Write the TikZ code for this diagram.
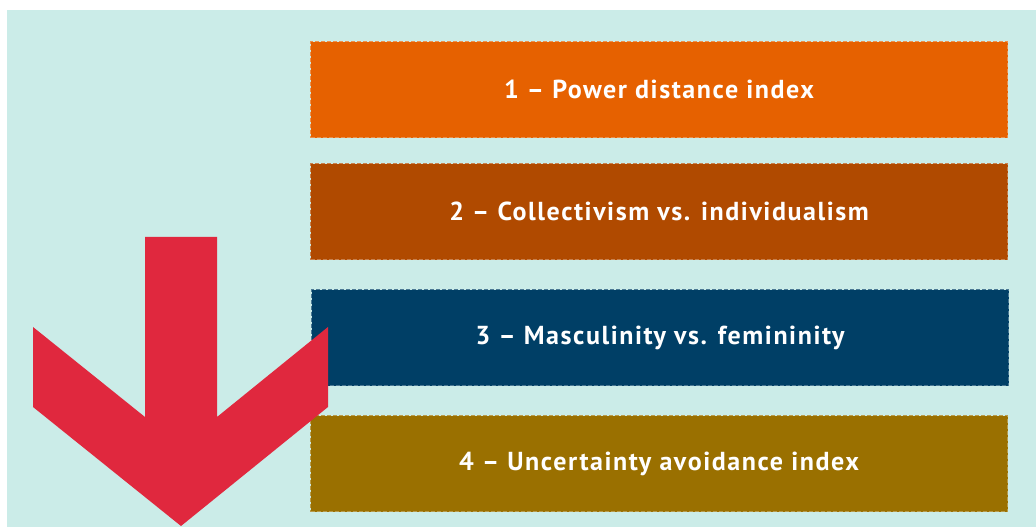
\documentclass[tikz,border=0pt]{standalone}
\usepackage{fontspec}
\setmainfont{PT Sans}
\newfontfamily\labelfont[LetterSpace=6]{PT Sans}
\definecolor{bgc}{HTML}{CBECE8}
\definecolor{c1}{HTML}{E66100}
\definecolor{c2}{HTML}{B04A00}
\definecolor{c3}{HTML}{003F66}
\definecolor{c4}{HTML}{9A7000}
\definecolor{arr}{HTML}{E0283E}
\tikzset{
  factor/.style={minimum width=697pt, minimum height=96pt, inner sep=0pt, anchor=north west,
    text=white, font=\labelfont\fontsize{26}{29}\selectfont\bfseries, dashed, line width=1.2pt, dash pattern=on 4pt off 2pt},
}
\begin{document}
\begin{tikzpicture}[x=1pt,y=1pt]
\useasboundingbox (0,0) rectangle (1036,527);
\fill[white] (0,0) rectangle (1036,527);
\fill[bgc] (7,0) rectangle (1036,517);
\node[factor, fill=c1, draw=c1!70!white] (f1) at (310,486) {1 – Power distance index};
\node[factor, fill=c2, draw=c2!70!white] (f2) at (310,364) {2 – Collectivism vs. individualism};
\node[factor, fill=c3, draw=c3!70!white] (f3) at (311,238) {3 – Masculinity vs. femininity};
\node[factor, fill=c4, draw=c4!70!white] (f4) at (310,112) {4 – Uncertainty avoidance index};
\fill[arr] (145,290) -- (217,290) -- (217,110) -- (328,200) -- (328,120) -- (181,1) -- (33,120) -- (33,200) -- (145,110) -- cycle;
\end{tikzpicture}
\end{document}
